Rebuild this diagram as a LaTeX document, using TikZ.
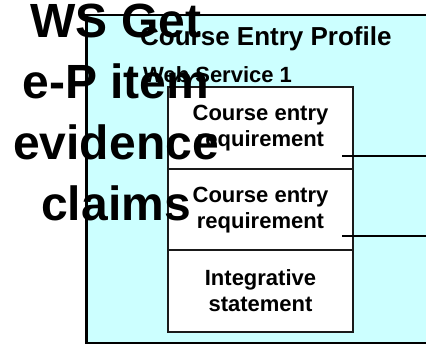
\documentclass[tikz,border=0pt]{standalone}
\usepackage{fontspec}
\setmainfont{Liberation Sans}
\definecolor{panelcyan}{HTML}{CCFFFF}
\definecolor{edgegray}{HTML}{1A1A1A}
\begin{document}
\begin{tikzpicture}[x=1pt,y=-1pt,
  wsbox/.style={draw=edgegray, line width=1.3pt, fill=white, minimum width=185pt, minimum height=82pt, inner sep=0pt, align=center, font=\fontsize{22}{26}\selectfont\bfseries},
  link/.style={draw=black, line width=1.5pt},
  panel/.style={fill=panelcyan},
  paneledge/.style={draw=black, line width=2.8pt}]
\useasboundingbox (0,0) rectangle (426,345);
% panel
\fill[panel] (86.5,15) rectangle (426,343);
\draw[paneledge] (426,15) -- (86.5,15) -- (86.5,343) -- (426,343);
\node[anchor=base west, inner sep=0pt, font=\fontsize{26}{30}\selectfont\bfseries] (title) at (140,46) {Course Entry Profile};
\node[anchor=base west, inner sep=0pt, font=\fontsize{22}{26}\selectfont\bfseries] (ws1) at (143,82) {Web Service 1};
% boxes
\node[wsbox] (b1) at (260.5,128) {Course entry\\requirement};
\node[wsbox] (b2) at (260.5,210) {Course entry\\requirement};
\node[wsbox] (b3) at (260.5,291) {Integrative\\statement};
% connectors
\coordinate (l1s) at (342,156);
\coordinate (l1e) at (426,156);
\coordinate (l2s) at (342,236);
\coordinate (l2e) at (426,236);
\draw[link] (l1s) -- (l1e);
\draw[link] (l2s) -- (l2e);
% big overlay text
\node[anchor=base, inner sep=0pt, align=center, font=\fontsize{48}{61}\selectfont\bfseries] (big) at (116,220) {WS Get\\e-P item\\evidence\\claims};
\end{tikzpicture}
\end{document}
